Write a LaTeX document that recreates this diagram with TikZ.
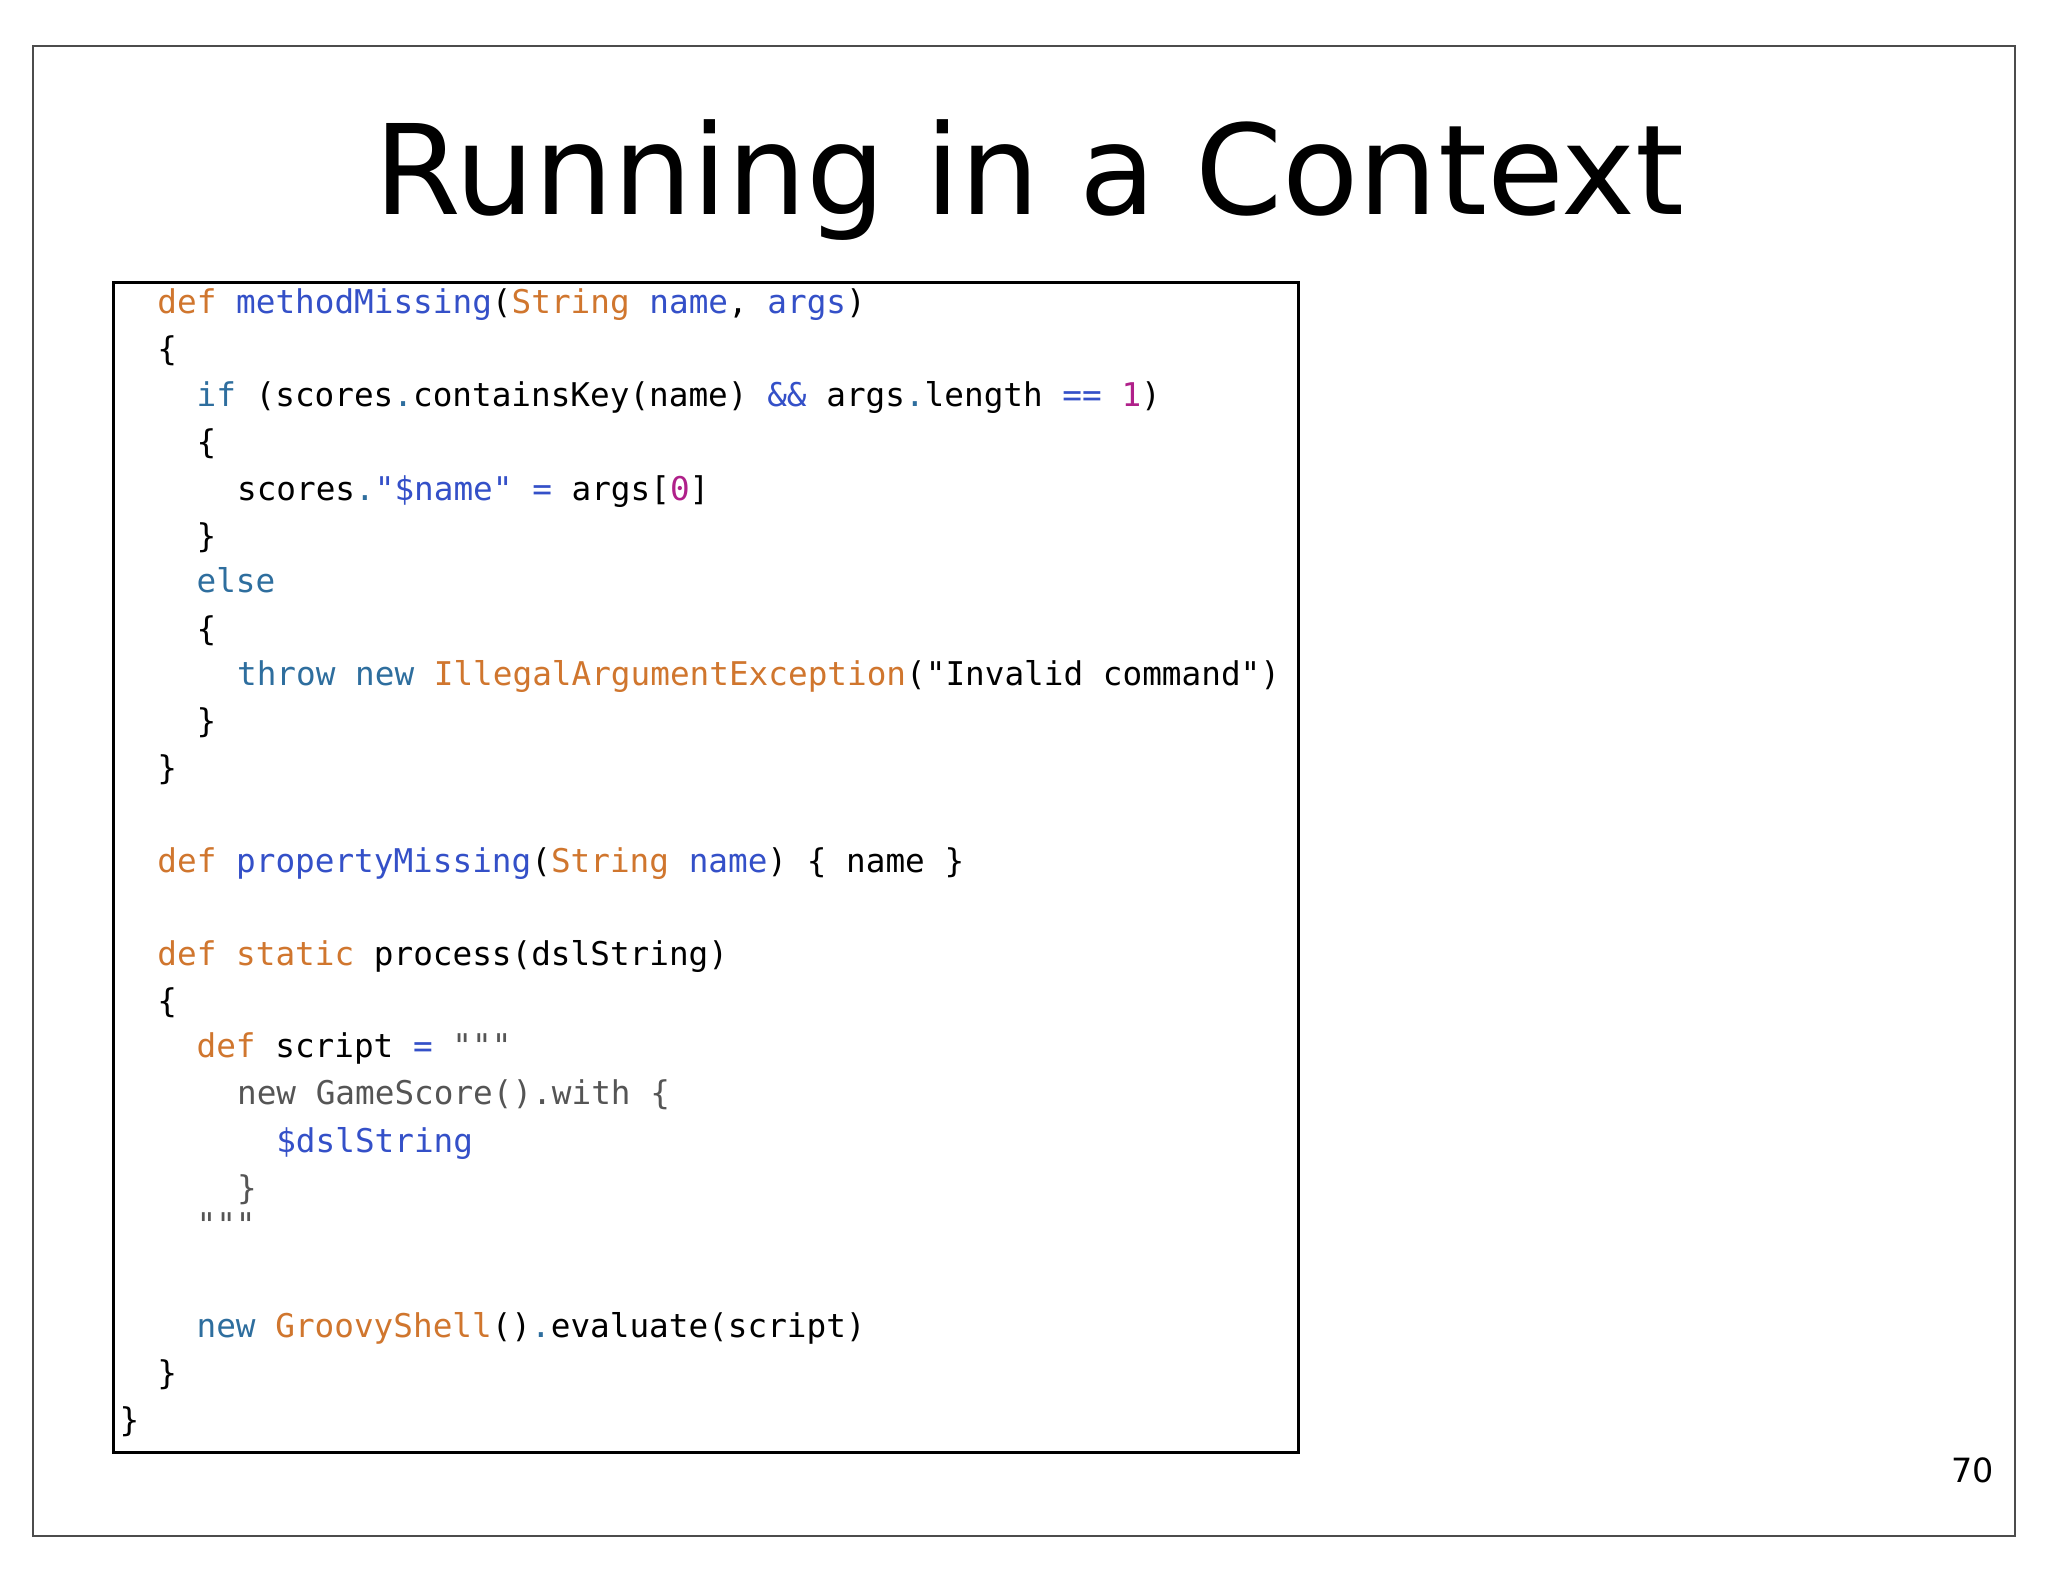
\documentclass[tikz,border=0pt]{standalone}
\usepackage{fontspec}
\setmainfont{DejaVu Sans}
\setmonofont{DejaVu Sans Mono}
\definecolor{kdef}{HTML}{D0762E}
\definecolor{kblue}{HTML}{3450C8}
\definecolor{kteal}{HTML}{2E6E9E}
\definecolor{kpur}{HTML}{B0208A}
\definecolor{kgray}{HTML}{555555}
\newcommand{\Dk}[1]{\textcolor{kdef}{#1}}
\newcommand{\Bk}[1]{\textcolor{kblue}{#1}}
\newcommand{\Tk}[1]{\textcolor{kteal}{#1}}
\newcommand{\Pk}[1]{\textcolor{kpur}{#1}}
\newcommand{\Gk}[1]{\textcolor{kgray}{#1}}
\begin{document}
\begin{tikzpicture}[x=0.01306cm,y=-0.01306cm,
  code/.style={anchor=base west,inner sep=0,font=\ttfamily\fontsize{9.3}{11}\selectfont}]
\useasboundingbox (0,0) rectangle (1568,1211);
\fill[white] (0,0) rectangle (1568,1211);
\draw[line width=0.6pt,black!70] (25,35) rectangle (1543,1176);
\node[inner sep=0] (title) at (788,138) {\resizebox{13.1cm}{!}{Running in a Context}};
\draw[line width=0.8pt] (87,216) rectangle (994,1112);
\node[code] (l1) at (120,240) {\Dk{def} \Bk{methodMissing}(\Dk{String} \Bk{name}, \Bk{args})};
\node[code] (l2) at (120,276) {\{};
\node[code] (l3) at (150,311) {\Tk{if} (scores\Tk{.}containsKey(name) \Bk{\&\&} args\Tk{.}length \Bk{==} \Pk{1})};
\node[code] (l4) at (150,347) {\{};
\node[code] (l5) at (181,383) {scores\Tk{.}\Bk{"\$name"} \Bk{=} args[\Pk{0}]};
\node[code] (l6) at (150,419) {\}};
\node[code] (l7) at (150,454) {\Tk{else}};
\node[code] (l8) at (150,490) {\{};
\node[code] (l9) at (181,525) {\Tk{throw} \Tk{new} \Dk{IllegalArgumentException}("Invalid command")};
\node[code] (l10) at (150,561) {\}};
\node[code] (l11) at (120,597) {\}};
\node[code] (l12) at (120,668) {\Dk{def} \Bk{propertyMissing}(\Dk{String} \Bk{name}) \{ name \}};
\node[code] (l13) at (120,739) {\Dk{def} \Dk{static} process(dslString)};
\node[code] (l14) at (120,775) {\{};
\node[code] (l15) at (150,810) {\Dk{def} script \Bk{=} \Gk{"""}};
\node[code] (l16) at (181,846) {\Gk{new GameScore().with \{}};
\node[code] (l17) at (211,882) {\Bk{\$dslString}};
\node[code] (l18) at (181,918) {\Gk{\}}};
\node[code] (l19) at (150,947) {\Gk{"""}};
\node[code] (l20) at (150,1024) {\Tk{new} \Dk{GroovyShell}()\Tk{.}evaluate(script)};
\node[code] (l21) at (120,1060) {\}};
\node[code] (l22) at (91,1096) {\}};
\node[font=\fontsize{9.5}{11}\selectfont,inner sep=0] (pg) at (1510,1126) {70};
\end{tikzpicture}
\end{document}
